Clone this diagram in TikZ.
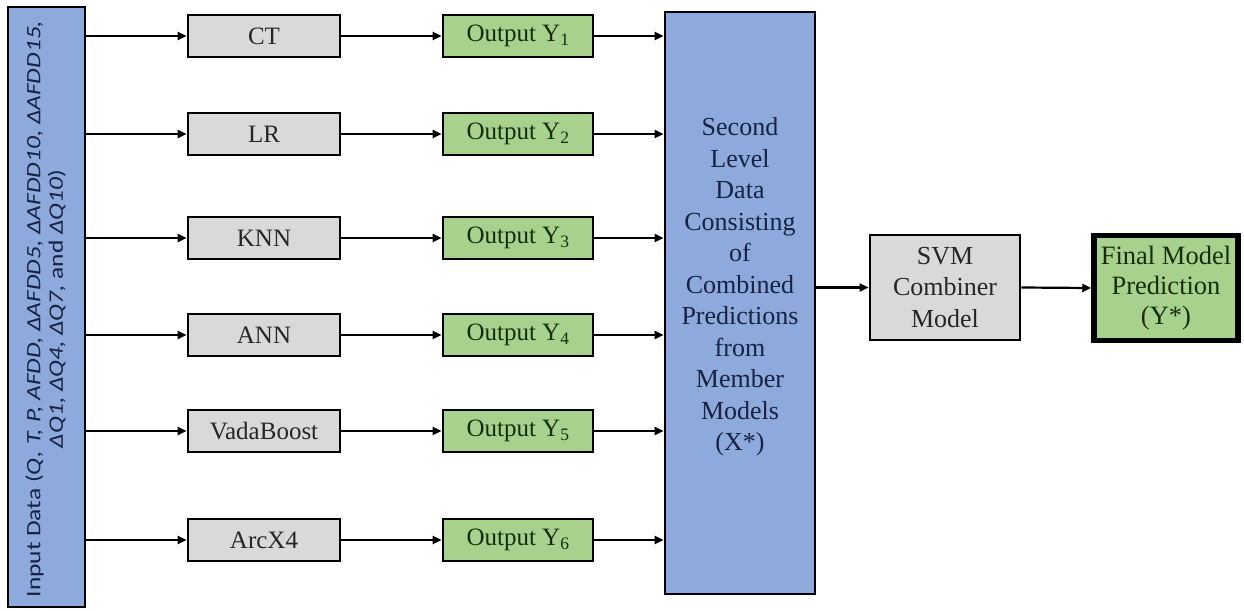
\documentclass[tikz,border=0pt]{standalone}
\usepackage{fontspec}
\setmainfont{Liberation Serif}
\newfontfamily\inputfont{Carlito}
\usetikzlibrary{arrows.meta}

\definecolor{stackblue}{RGB}{142,169,219}
\definecolor{modelgray}{RGB}{217,217,217}
\definecolor{outgreen}{RGB}{169,209,142}
\definecolor{navytext}{RGB}{24,34,66}
\definecolor{greentext}{RGB}{20,46,12}
\definecolor{graytext}{RGB}{38,38,38}

\tikzset{
  box/.style={draw=black, line width=2.6pt, rectangle, inner sep=0pt, align=center},
  modelbox/.style={box, fill=modelgray, text=graytext, minimum width=152pt, minimum height=42pt,
    font=\fontsize{25}{29}\selectfont},
  outbox/.style={box, fill=outgreen, text=greentext, minimum width=150pt, minimum height=42pt,
    font=\fontsize{25}{29}\selectfont},
  conn/.style={line width=2.2pt, -{Triangle[length=9pt,width=8pt]}},
}

\begin{document}
\begin{tikzpicture}[x=1pt, y=-1pt]
  \useasboundingbox (0,0) rectangle (1244,610);

  % input data column
  \node[box, fill=stackblue, minimum width=77pt, minimum height=600pt] (in) at (46.5,307) {};
  \node[rotate=90, text=navytext, inner sep=0pt, font=\inputfont\fontsize{20.5}{22.5}\selectfont] (intext) at (47,309)
    {\scalebox{1.24}[1]{\begin{tabular}{@{}c@{}}
     Input Data (\textit{Q, T, P, AFDD, ΔAFDD5, ΔAFDD10, ΔAFDD15,}\\
     \textit{ΔQ1, ΔQ4, ΔQ7,} and \textit{ΔQ10})
     \end{tabular}}};

  % member models
  \node[modelbox] (ct)   at (264,36)  {CT};
  \node[modelbox] (lr)   at (264,134) {LR};
  \node[modelbox] (knn)  at (264,238) {KNN};
  \node[modelbox] (ann)  at (264,335) {ANN};
  \node[modelbox] (vada) at (264,431) {VadaBoost};
  \node[modelbox] (arc)  at (264,540) {ArcX4};

  % member outputs
  \node[outbox] (y1) at (518,36)  {Output Y\textsubscript{1}};
  \node[outbox] (y2) at (518,134) {Output Y\textsubscript{2}};
  \node[outbox] (y3) at (518,238) {Output Y\textsubscript{3}};
  \node[outbox] (y4) at (518,335) {Output Y\textsubscript{4}};
  \node[outbox] (y5) at (518,431) {Output Y\textsubscript{5}};
  \node[outbox] (y6) at (518,540) {Output Y\textsubscript{6}};

  % second level data
  \node[box, fill=stackblue, minimum width=150pt, minimum height=582pt] (lvl2) at (740,303) {};
  \node[text=navytext, align=center, font=\fontsize{26}{31.5}\selectfont] (lvl2text) at (740,287)
    {Second\\Level\\Data\\Consisting\\of\\Combined\\Predictions\\from\\Member\\Models\\(X*)};

  % combiner and final prediction
  \node[box, fill=modelgray, text=graytext, minimum width=150pt, minimum height=105pt,
        font=\fontsize{26}{31.5}\selectfont] (svm) at (945,287.5) {SVM\\Combiner\\Model};
  \node[box, line width=5.5pt, fill=outgreen, text=greentext, minimum width=144pt, minimum height=105pt,
        font=\fontsize{26.5}{30}\selectfont] (final) at (1166,288) {Final Model\\Prediction\\(Y*)};

  % connectors
  \foreach \m/\o in {ct/y1, lr/y2, knn/y3, ann/y4, vada/y5, arc/y6} {
    \draw[conn] (in.east |- \m.west) -- (\m.west);
    \draw[conn] (\m.east) -- (\o.west);
    \draw[conn] (\o.east) -- (\o.east -| lvl2.west);
  }
  \draw[conn] (lvl2.east |- svm.west) -- (svm.west);
  \draw[conn] (svm.east) -- (final.west);
\end{tikzpicture}
\end{document}
